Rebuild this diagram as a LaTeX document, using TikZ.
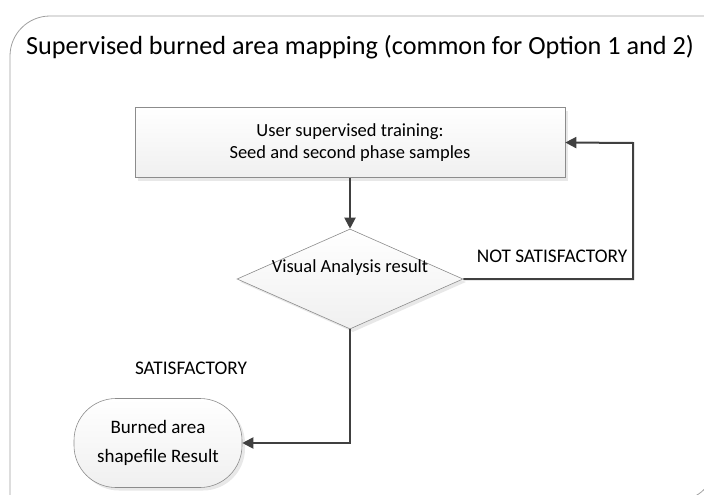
\documentclass[tikz,border=0pt]{standalone}
\usepackage{fontspec}
\setmainfont{Carlito}
\usetikzlibrary{arrows.meta,shapes.geometric,shadows}
\definecolor{conn}{HTML}{404040}
\definecolor{edge}{HTML}{8C8C8C}
\begin{document}
\begin{tikzpicture}[x=1pt,y=-1pt,
  shapebox/.style={draw=edge, line width=0.6pt, top color=white, bottom color=gray!12,
     drop shadow={shadow xshift=3pt, shadow yshift=-3pt, fill=gray!35, opacity=0.5},
     align=center, font=\fontsize{18.5}{22}\selectfont, inner sep=0pt},
  conn/.style={draw=conn, line width=2pt, -{Triangle[length=11pt,width=11pt]}},
  lbl/.style={font=\fontsize{19.3}{22}\selectfont, inner sep=0pt}]
\useasboundingbox (0,0) rectangle (704,495);
\begin{scope}
\clip (0,0) rectangle (704,495);
\draw[draw=gray!75, line width=0.8pt] (10,501) -- (10,56) arc[start angle=180, end angle=90, radius=40pt]
  -- (716,16) -- (716,461) arc[start angle=0, end angle=-90, radius=40pt] -- cycle;
\end{scope}
\node[anchor=base west, inner sep=0pt, font=\fontsize{26.2}{30}\selectfont] (title) at (26,55) {Supervised burned area mapping (common for Option 1 and 2)};
\node[shapebox, rectangle, minimum width=430pt, minimum height=70pt] (box) at (350,142.5) {User supervised training:\\Seed and second phase samples};
\node[shapebox, diamond, aspect=2.26, minimum width=226pt, minimum height=100pt] (dia) at (350,279) {};
\node[inner sep=0pt, font=\fontsize{18.5}{22}\selectfont] (dtext) at (350,268) {Visual Analysis result};
\node[shapebox, rectangle, rounded corners=42pt, minimum width=168pt, minimum height=89pt, font=\fontsize{19}{29}\selectfont] (term) at (158,443) {Burned area\\shapefile Result};
\coordinate (rt) at (633,143);
\draw[conn] (box.south) -- (dia.north);
\draw[conn] (dia.east) -| (rt) -- (box.east);
\draw[conn] (dia.south) |- (term.east);
\node[lbl] (ns) at (552,256) {NOT SATISFACTORY};
\node[lbl] (sat) at (191,368) {SATISFACTORY};
\end{tikzpicture}
\end{document}
